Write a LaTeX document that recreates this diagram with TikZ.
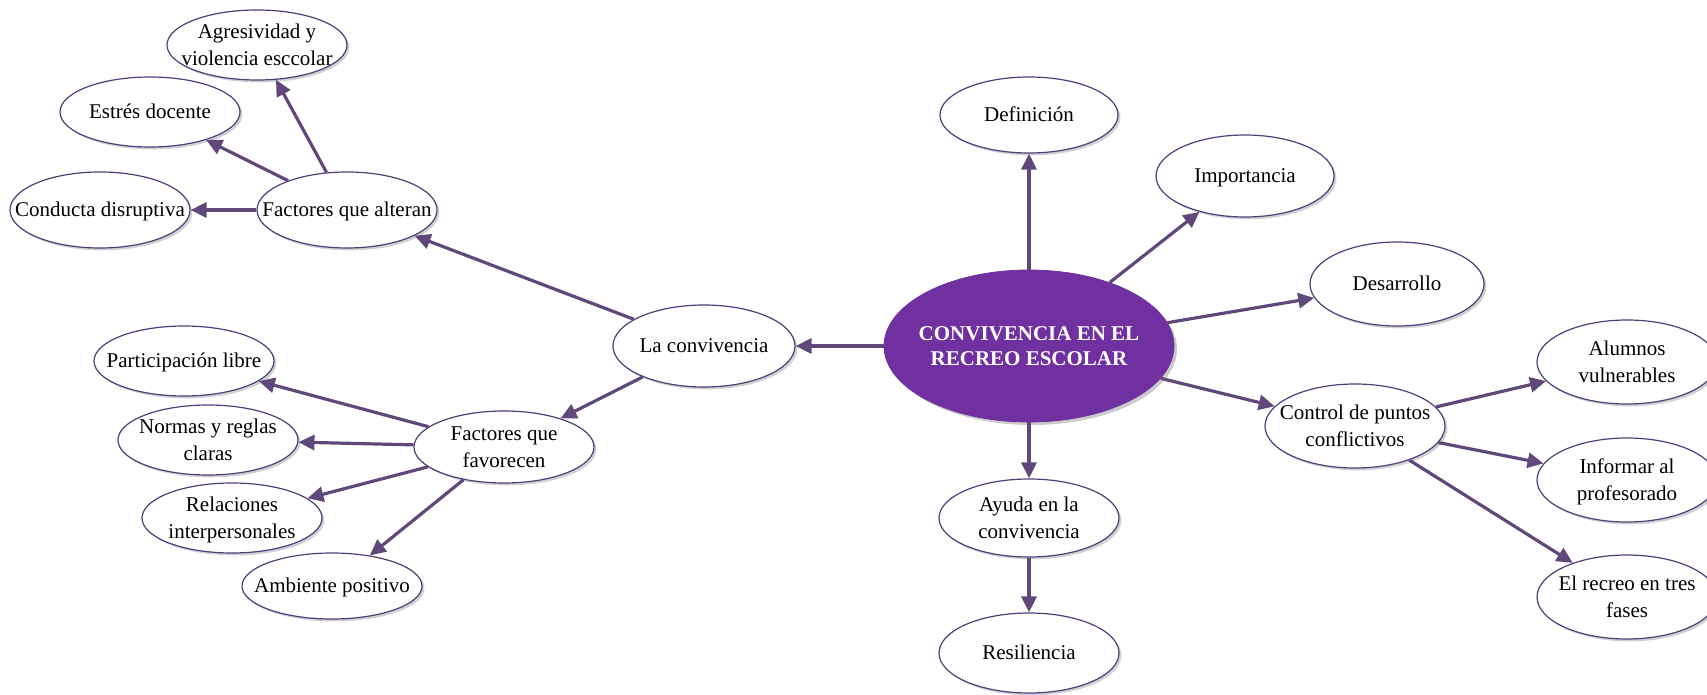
\documentclass[tikz,border=0pt]{standalone}
\usepackage{fontspec}
\setmainfont{Liberation Serif}
\usetikzlibrary{shapes.geometric,arrows.meta,shadows}
\definecolor{arr}{RGB}{96,73,122}
\definecolor{rim}{RGB}{80,62,120}
\definecolor{cfill}{RGB}{112,48,160}
\newcommand{\tx}[1]{\makebox[0pt]{\smash{\raisebox{-3.5pt}{\begin{tabular}{@{}c@{}}#1\end{tabular}}}}}
\tikzset{
  bub/.style={ellipse, draw=rim, line width=0.6pt, fill=white, inner sep=0pt,
    drop shadow={shadow xshift=1.2pt, shadow yshift=-1.2pt, fill=black!30, opacity=0.6},
    font=\fontsize{10.5}{13.5}\selectfont},
  hub/.style={ellipse, draw=cfill, fill=cfill, inner sep=0pt, text=white,
    drop shadow={shadow xshift=1.5pt, shadow yshift=-1.5pt, fill=black!35, opacity=0.6},
    font=\fontsize{10.5}{12.5}\selectfont\bfseries},
  sz/.style 2 args={minimum width=#1pt, minimum height=#2pt},
  con/.style={draw=arr, line width=1.6pt, -{Triangle[length=8pt,width=7.5pt]}},
}
\begin{document}
\begin{tikzpicture}[x=0.5pt,y=-0.5pt]
\useasboundingbox (0,0) rectangle (1707,695);
% centre
\node[hub, sz={145}{76}] (hub) at (1029,346) {\tx{CONVIVENCIA EN EL\\RECREO ESCOLAR}};
% right / top
\node[bub, sz={89}{38}] (def) at (1029,115) {\tx{Definición}};
\node[bub, sz={89}{41}] (imp) at (1245,176) {\tx{Importancia}};
\node[bub, sz={87}{42}] (des) at (1397,284) {\tx{Desarrollo}};
\node[bub, sz={90}{42}] (ctrl) at (1355,426) {\tx{Control de puntos\\conflictivos}};
\node[bub, sz={90}{42}] (alum) at (1627,362) {\tx{Alumnos\\vulnerables}};
\node[bub, sz={90}{42}] (inf) at (1627,480) {\tx{Informar al\\profesorado}};
\node[bub, sz={90}{42}] (rec) at (1627,597) {\tx{El recreo en tres\\fases}};
\node[bub, sz={90}{39}] (ayuda) at (1029,518) {\tx{Ayuda en la\\convivencia}};
\node[bub, sz={90}{40}] (resil) at (1029,653) {\tx{Resiliencia}};
% left
\node[bub, sz={91}{41}] (lacon) at (704,346) {\tx{La convivencia}};
\node[bub, sz={90}{38}] (falt) at (347,210) {\tx{Factores que alteran}};
\node[bub, sz={90}{38}] (cond) at (100,210) {\tx{Conducta disruptiva}};
\node[bub, sz={90}{35}] (estres) at (150,112) {\tx{Estrés docente}};
\node[bub, sz={90}{35}] (agres) at (257,45) {\tx{Agresividad y\\violencia esccolar}};
\node[bub, sz={90}{36}] (ffav) at (504,447) {\tx{Factores que\\favorecen}};
\node[bub, sz={90}{35}] (part) at (184,361) {\tx{Participación libre}};
\node[bub, sz={90}{35}] (norm) at (208,440) {\tx{Normas y reglas\\claras}};
\node[bub, sz={90}{35}] (rel) at (232,518) {\tx{Relaciones\\interpersonales}};
\node[bub, sz={90}{33}] (amb) at (332,586) {\tx{Ambiente positivo}};
% connectors
\draw[con] (hub) -- (def);
\draw[con] (hub) -- (imp);
\draw[con] (hub) -- (des);
\draw[con] (hub) -- (ctrl);
\draw[con] (hub) -- (ayuda);
\draw[con] (hub) -- (lacon);
\draw[con] (ayuda) -- (resil);
\draw[con] (ctrl) -- (alum);
\draw[con] (ctrl) -- (inf);
\draw[con] (ctrl) -- (rec);
\draw[con] (lacon) -- (falt);
\draw[con] (lacon) -- (ffav);
\draw[con] (falt) -- (cond);
\draw[con] (falt) -- (estres);
\draw[con] (falt) -- (agres);
\draw[con] (ffav) -- (part);
\draw[con] (ffav) -- (norm);
\draw[con] (ffav) -- (rel);
\draw[con] (ffav) -- (amb);
\end{tikzpicture}
\end{document}
